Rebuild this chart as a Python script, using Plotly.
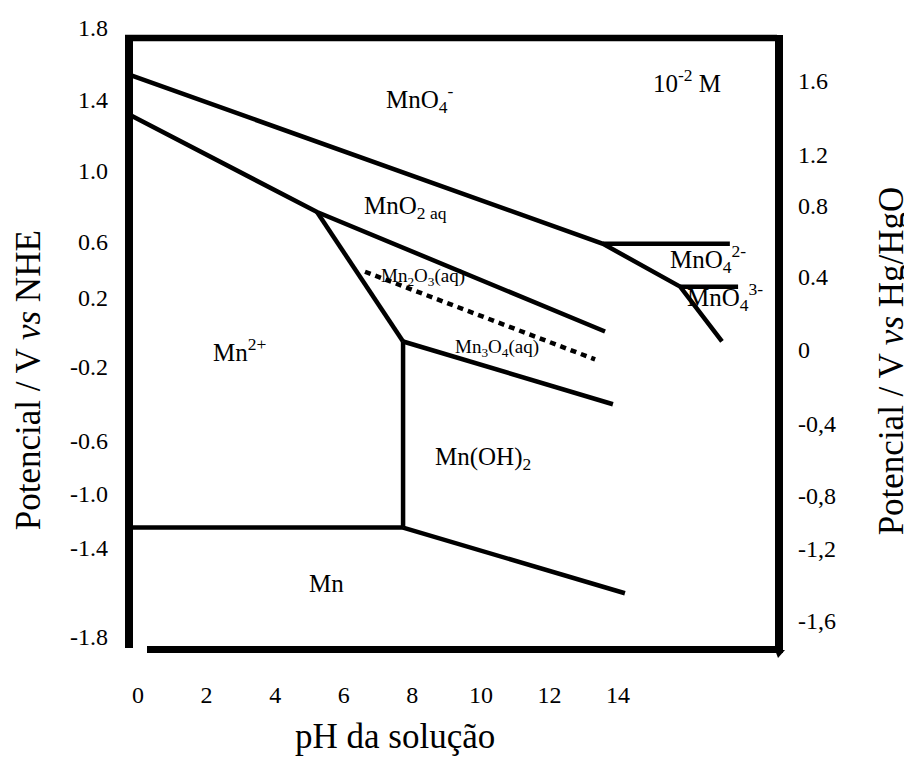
import plotly.graph_objects as go

# ---------------- data (pH, potential vs NHE / V) ----------------
mno4_x = [-0.26, 13.56, 15.81, 17.03]
mno4_y = [1.524, 0.524, 0.271, -0.053]

mno4_2_x = [13.56, 17.26]
mno4_2_y = [0.524, 0.524]

mno4_3_x = [15.81, 17.50]
mno4_3_y = [0.271, 0.271]

mno2_x = [-0.26, 5.22, 13.62]
mno2_y = [1.288, 0.712, 0.006]

diag_x = [5.22, 7.73]
diag_y = [0.712, -0.053]

mn3o4_x = [7.73, 13.85]
mn3o4_y = [-0.053, -0.424]

vert_x = [7.73, 7.73]
vert_y = [-0.053, -1.153]

mn_h_x = [-0.26, 7.73]
mn_h_y = [-1.153, -1.153]

mnoh_x = [7.73, 14.20]
mnoh_y = [-1.153, -1.541]

dot_x = [6.62, 13.33]
dot_y = [0.359, -0.159]

# region labels
label_text = ["MnO<sub>4</sub><sup>-</sup>", "10<sup>-2</sup> M", "MnO<sub>2 aq</sub>",
              "Mn<sup>2+</sup>", "Mn", "Mn(OH)<sub>2</sub>",
              "MnO<sub>4</sub><sup>2-</sup>", "MnO<sub>4</sub><sup>3-</sup>"]
label_x = [8.22, 16.01, 7.79, 2.97, 5.51, 10.06, 16.62, 17.12]
label_y = [1.382, 1.488, 0.741, -0.106, -1.482, -0.747, 0.435, 0.212]

small_text = ["Mn<sub>2</sub>O<sub>3</sub>(aq)", "Mn<sub>3</sub>O<sub>4</sub>(aq)"]
small_x = [8.31, 10.47]
small_y = [0.329, -0.094]

# ticks
x_ticks = [0, 2, 4, 6, 8, 10, 12, 14]
x_tick_text = ["0", "2", "4", "6", "8", "10", "12", "14"]
left_tick_text = ["1.8", "1.4", "1.0", "0.6", "0.2", "-0.2", "-0.6", "-1.0", "-1.4", "-1.8"]
left_tick_pos = [1.8, 1.3765, 0.9588, 0.5353, 0.2059, -0.2, -0.6412, -0.9529, -1.2706, -1.8]
right_tick_text = ["1.6", "1.2", "0.8", "0.4", "0", "-0,4", "-0,8", "-1,2", "-1,6"]
right_tick_pos = [1.4882, 1.0529, 0.7529, 0.3294, -0.1, -0.5412, -0.9647, -1.2765, -1.7]

# ---------------- figure ----------------
OFF = 8  # page body margin
W, H = 912 - OFF, 770 - OFF
L, R, T, B = 129 - OFF, 779 - OFF, 15 - OFF, 650 - OFF
XR = [-0.2625, 18.693]
YR = [-1.8765, 1.8588]
FONT = "Liberation Serif, Times New Roman, serif"
LW = 4.5

fig = go.Figure()

def seg(x, y, dash="solid", width=LW):
    fig.add_trace(go.Scatter(x=x, y=y, mode="lines", showlegend=False,
                             line=dict(color="black", width=width, dash=dash),
                             hoverinfo="skip"))

seg(mno4_x, mno4_y)
seg(mno4_2_x, mno4_2_y)
seg(mno4_3_x, mno4_3_y)
seg(mno2_x, mno2_y)
seg(diag_x, diag_y)
seg(mn3o4_x, mn3o4_y)
seg(vert_x, vert_y)
seg(mn_h_x, mn_h_y)
seg(mnoh_x, mnoh_y)
seg(dot_x, dot_y, dash="6px,5px", width=4.5)

# invisible trace on right axis
fig.add_trace(go.Scatter(x=[XR[0]], y=[YR[0]], yaxis="y2", mode="markers",
                         marker=dict(opacity=0), showlegend=False, hoverinfo="skip"))

for t, x, y in zip(label_text, label_x, label_y):
    fig.add_annotation(x=x, y=y, text=t, showarrow=False, xanchor="center", yanchor="middle",
                       font=dict(family=FONT, size=25, color="black"))
for t, x, y in zip(small_text, small_x, small_y):
    fig.add_annotation(x=x, y=y, text=t, showarrow=False, xanchor="center", yanchor="middle",
                       font=dict(family=FONT, size=19, color="black"))

# reference-pixel -> paper coordinates
def pxx(p):
    return (p - OFF - L) / (R - L)

def pyy(p):
    return (B - (p - OFF)) / (B - T)

# axis titles
fig.add_annotation(xref="paper", yref="paper", x=pxx(28), y=pyy(379),
                   xanchor="center", yanchor="middle",
                   text="Potencial / V <i>vs</i> NHE", textangle=-90, showarrow=False,
                   font=dict(family=FONT, size=35, color="black"))
fig.add_annotation(xref="paper", yref="paper", x=pxx(891), y=pyy(360),
                   xanchor="center", yanchor="middle",
                   text="Potencial / V <i>vs</i> Hg/HgO", textangle=-90, showarrow=False,
                   font=dict(family=FONT, size=35, color="black"))
fig.add_annotation(xref="paper", yref="paper", x=pxx(395), y=pyy(737),
                   xanchor="center", yanchor="middle",
                   text="pH da solução", showarrow=False,
                   font=dict(family=FONT, size=35, color="black"))

# frame
def fl(x0, y0, x1, y1, w):
    fig.add_shape(type="line", xref="paper", yref="paper",
                  x0=pxx(x0), y0=pyy(y0), x1=pxx(x1), y1=pyy(y1),
                  line=dict(color="black", width=w), layer="above")

fl(129, 33, 129, 648, 8)
fl(125, 35, 777, 35, 6.5)
fl(779, 32, 779, 651, 8)
fl(147, 649.5, 783, 649.5, 7)
fig.add_shape(type="path", xref="paper", yref="paper",
              path="M %f %f L %f %f L %f %f Z" % (pxx(775), pyy(650), pxx(785), pyy(650), pxx(778), pyy(658)),
              fillcolor="black", line=dict(width=0), layer="above")

tickfont = dict(family=FONT, size=24, color="black")
fig.update_layout(
    width=W, height=H, autosize=False,
    margin=dict(l=L, r=W - R, t=T, b=H - B, pad=0),
    plot_bgcolor="white", paper_bgcolor="white",
    xaxis=dict(range=XR, showgrid=False, zeroline=False, showline=False,
               tickmode="array", tickvals=x_ticks, ticktext=x_tick_text,
               ticks="", tickfont=tickfont, ticklabelstandoff=28, fixedrange=True),
    yaxis=dict(range=YR, showgrid=False, zeroline=False, showline=False,
               tickmode="array", tickvals=left_tick_pos, ticktext=left_tick_text,
               ticks="", tickfont=tickfont, ticklabelstandoff=20, fixedrange=True),
    yaxis2=dict(range=YR, overlaying="y", side="right", showgrid=False, zeroline=False,
                showline=False, tickmode="array", tickvals=right_tick_pos,
                ticktext=right_tick_text, ticks="", tickfont=tickfont,
                ticklabelstandoff=18, fixedrange=True),
)

fig.write_html("out.html")
